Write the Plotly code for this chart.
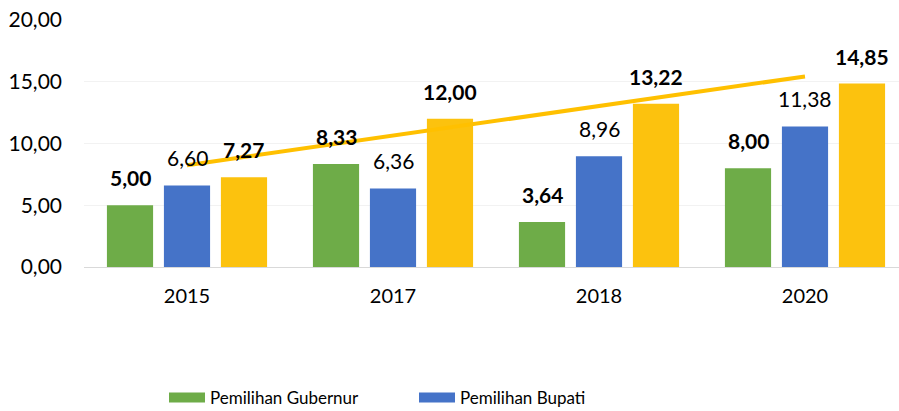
import numpy as np
import plotly.graph_objects as go

years = ["2015", "2017", "2018", "2020"]
gubernur = [5.00, 8.33, 3.64, 8.00]
bupati = [6.60, 6.36, 8.96, 11.38]
walikota = [7.27, 12.00, 13.22, 14.85]

series_names = ["Pemilihan Gubernur", "Pemilihan Bupati", "Pemilihan Walikota"]
series_values = [gubernur, bupati, walikota]
series_colors = ["#6EAC48", "#4573C8", "#FCC20E"]
series_bold = [True, False, True]
series_legend = [True, True, False]

y_ticks = [0, 5, 10, 15, 20]

FONT = "Lato"
BARGAP = 0.17
GROUPGAP = 0.19

fig = go.Figure()
for name, vals, col, leg in zip(series_names, series_values, series_colors, series_legend):
    fig.add_trace(go.Bar(
        x=years, y=vals, name=name, marker=dict(color=col, line=dict(width=0)),
        legendgroup=name, showlegend=False,
    ))
    if leg:
        # legend-only entry drawn as a wide swatch
        fig.add_trace(go.Scatter(
            x=[None], y=[None], mode="lines", name=name, legendgroup=name,
            line=dict(color=col, width=13), hoverinfo="skip",
        ))

# linear trendline of the third series
xi = np.arange(1, len(years) + 1)
slope, intercept = np.polyfit(xi, walikota, 1)
trend = slope * xi + intercept
fig.add_trace(go.Scatter(
    x=years, y=trend, mode="lines", line=dict(color="#FFC000", width=4),
    showlegend=False, hoverinfo="skip",
))

# data labels above each bar
slot = (1 - BARGAP) / len(series_values)
annotations = []
for j, (vals, bold) in enumerate(zip(series_values, series_bold)):
    for i, v in enumerate(vals):
        txt = f"{v:.2f}".replace(".", ",")
        if bold:
            txt = f"<b>{txt}</b>"
        annotations.append(dict(
            x=i + (j - 1) * slot, y=v, xref="x", yref="y",
            text=txt, showarrow=False, yanchor="bottom", yshift=13,
            font=dict(family=FONT, size=21, color="#000000"),
        ))

plot_left = 84
plot_w = 899 - plot_left

fig.update_layout(
    width=899, height=411,
    margin=dict(l=plot_left, r=0, t=20, b=411 - 267, autoexpand=False),
    paper_bgcolor="white", plot_bgcolor="white",
    barmode="group", bargap=BARGAP, bargroupgap=GROUPGAP,
    separators=",.",
    font=dict(family=FONT, size=20, color="#000000"),
    annotations=annotations,
    xaxis=dict(
        type="category", range=[-0.5, -0.5 + plot_w / 206.0], showgrid=False, showline=False,
        ticks="", ticklabelstandoff=15, automargin=False,
        tickfont=dict(family=FONT, size=20, color="#000000"),
    ),
    yaxis=dict(
        range=[0, 20], tickvals=y_ticks, tickformat=".2f",
        showgrid=True, gridcolor="#F2F2F2", gridwidth=1,
        zeroline=True, zerolinecolor="#D9D9D9", zerolinewidth=1,
        showline=False, ticks="", ticklabelstandoff=21, automargin=False,
        ticklabeloverflow="allow",
        tickfont=dict(family=FONT, size=21, color="#000000"),
    ),
    legend=dict(
        orientation="h", xref="container", yref="container",
        x=164 / 899, y=1 - 398 / 411, xanchor="left", yanchor="middle",
        entrywidth=199, entrywidthmode="pixels", itemwidth=36,
        font=dict(family=FONT, size=17, color="#000000"),
        bgcolor="rgba(0,0,0,0)",
    ),
)

fig.write_html(
    "out.html",
    config={"displayModeBar": False},
    post_script="document.body.style.margin='0';document.body.style.padding='0';",
)
